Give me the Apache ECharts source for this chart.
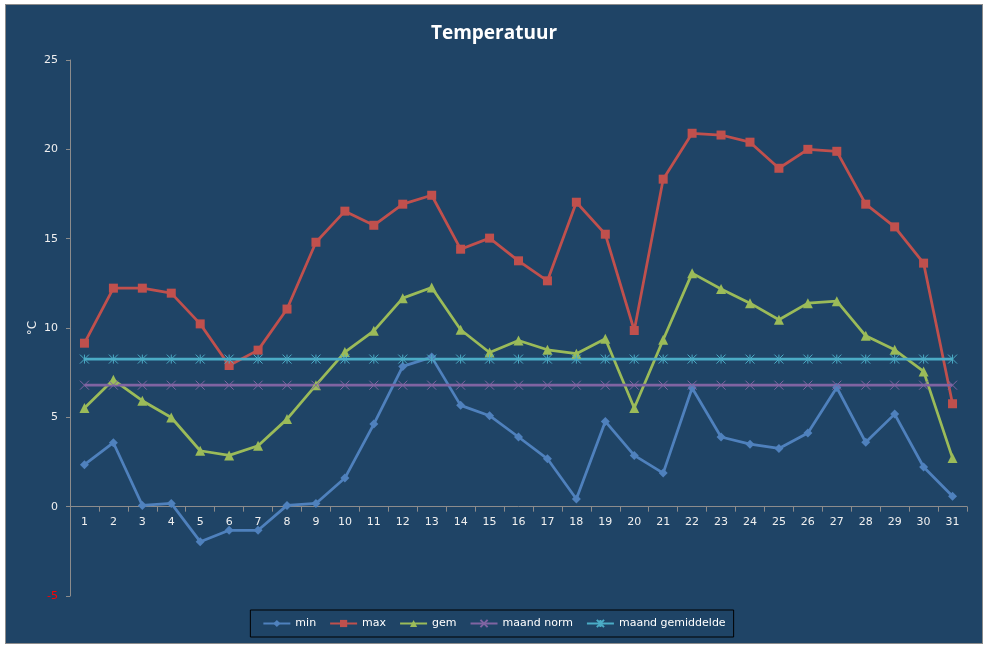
<!DOCTYPE html>
<html>
<head>
<meta charset="utf-8">
<title>Temperatuur</title>
<script src="https://cdn.jsdelivr.net/npm/echarts@6/dist/echarts.min.js"></script>
<style>
  html, body { margin: 0; padding: 0; background: #ffffff; }
  #chart {
    position: absolute; left: 5px; top: 4px;
    width: 976px; height: 638px;
    border: 1px solid #8c8c8c;
  }
</style>
</head>
<body>
<div id="chart"></div>
<script>
// dagen van de maand
const days = ['1','2','3','4','5','6','7','8','9','10','11','12','13','14','15','16',
              '17','18','19','20','21','22','23','24','25','26','27','28','29','30','31'];

const minTemp = [2.35, 3.58, 0.07, 0.18, -1.96, -1.32, -1.32, 0.07, 0.18, 1.6,
                 4.62, 7.85, 8.37, 5.67, 5.09, 3.9, 2.68, 0.43, 4.77, 2.87,
                 1.88, 6.64, 3.9, 3.5, 3.26, 4.12, 6.67, 3.6, 5.18, 2.22, 0.58];

const maxTemp = [9.15, 12.23, 12.23, 11.95, 10.23, 7.9, 8.76, 11.06, 14.8, 16.54,
                 15.75, 16.93, 17.43, 14.41, 15.03, 13.76, 12.64, 17.04, 15.25, 9.86,
                 18.33, 20.9, 20.8, 20.4, 18.94, 20.0, 19.89, 16.93, 15.66, 13.63, 5.76];

const gemTemp = [5.52, 7.1, 5.93, 4.99, 3.13, 2.87, 3.41, 4.9, 6.8, 8.65,
                 9.84, 11.67, 12.27, 9.9, 8.63, 9.3, 8.78, 8.56, 9.4, 5.52,
                 9.34, 13.07, 12.18, 11.39, 10.46, 11.39, 11.5, 9.56, 8.78, 7.57, 2.72];

const maandNorm = [6.8, 6.8, 6.8, 6.8, 6.8, 6.8, 6.8, 6.8, 6.8, 6.8,
                   6.8, 6.8, 6.8, 6.8, 6.8, 6.8, 6.8, 6.8, 6.8, 6.8,
                   6.8, 6.8, 6.8, 6.8, 6.8, 6.8, 6.8, 6.8, 6.8, 6.8, 6.8];

const maandGem = [8.26, 8.26, 8.26, 8.26, 8.26, 8.26, 8.26, 8.26, 8.26, 8.26,
                  8.26, 8.26, 8.26, 8.26, 8.26, 8.26, 8.26, 8.26, 8.26, 8.26,
                  8.26, 8.26, 8.26, 8.26, 8.26, 8.26, 8.26, 8.26, 8.26, 8.26, 8.26];

const seriesNames = ['min', 'max', 'gem', 'maand norm', 'maand gemiddelde'];

// lijnsymbolen voor kruisje en sterretje
const crossSymbol = 'path://M0,0L10,10M10,0L0,10';
const starSymbol = 'path://M0,0L10,10M10,0L0,10M5,0L5,10';

const font = 'DejaVu Sans';

// grid: y loopt van -5 tot 25, de x-as ligt op 0
const gridTop = 55, gridBottom = 47, chartHeight = 638;
const plotHeight = chartHeight - gridTop - gridBottom;
const zeroOffset = -plotHeight * 5 / 30;

function lineSeries(name, data, color, symbol, size, stroked) {
    return {
        name: name,
        type: 'line',
        data: data,
        symbol: symbol,
        symbolSize: size,
        showAllSymbol: true,
        lineStyle: { color: color, width: 2.75 },
        itemStyle: stroked
            ? { color: 'rgba(0,0,0,0)', borderColor: color, borderWidth: 1 }
            : { color: color, borderWidth: 0 },
        emphasis: { disabled: true },
        z: 2
    };
}

let option = {
    animation: false,
    backgroundColor: '#1f4466',
    title: {
        text: 'Temperatuur',
        left: 'center',
        top: 14,
        textStyle: { color: '#ffffff', fontFamily: 'Open Sans', fontWeight: 'bold', fontSize: 19 }
    },
    legend: {
        data: seriesNames,
        left: 'center',
        top: 605,
        padding: [8, 8, 8, 12],
        itemGap: 13,
        itemWidth: 27,
        itemHeight: 9,
        borderColor: '#000000',
        borderWidth: 1,
        textStyle: { color: '#ffffff', fontFamily: font, fontSize: 11 }
    },
    grid: { left: 64, right: 15, top: gridTop, bottom: gridBottom },
    xAxis: {
        type: 'category',
        data: days,
        boundaryGap: true,
        position: 'bottom',
        offset: zeroOffset,
        axisLine: { onZero: false, lineStyle: { color: '#8c8c8c', width: 1 } },
        axisTick: { show: true, length: 5, lineStyle: { color: '#8c8c8c' } },
        axisLabel: { interval: 0, color: '#f0f0f0', fontFamily: font, fontSize: 11, margin: 10 },
        splitLine: { show: false }
    },
    yAxis: {
        type: 'value',
        min: -5,
        max: 25,
        interval: 5,
        name: '°C',
        nameLocation: 'middle',
        nameRotate: 90,
        nameGap: 31,
        nameMoveOverlap: false,
        nameTextStyle: { color: '#f0f0f0', fontFamily: font, fontSize: 12 },
        axisLine: { show: true, lineStyle: { color: '#8c8c8c', width: 1 } },
        axisTick: { show: true, length: 4, lineStyle: { color: '#8c8c8c' } },
        axisLabel: {
            color: function (v) { return Number(v) < 0 ? '#ff0000' : '#f0f0f0'; },
            fontFamily: font, fontSize: 11, margin: 12
        },
        splitLine: { show: false }
    },
    series: [
        lineSeries('min', minTemp, '#4f81bd', 'diamond', 9, false),
        lineSeries('max', maxTemp, '#c0504d', 'rect', 9, false),
        lineSeries('gem', gemTemp, '#9bbb59', 'triangle', 10, false),
        lineSeries('maand norm', maandNorm, '#8064a2', crossSymbol, 9, true),
        lineSeries('maand gemiddelde', maandGem, '#4bacc6', starSymbol, 9, true)
    ]
};

let mychart = echarts.init(document.getElementById('chart'));
mychart.setOption(option);
</script>
</body>
</html>
